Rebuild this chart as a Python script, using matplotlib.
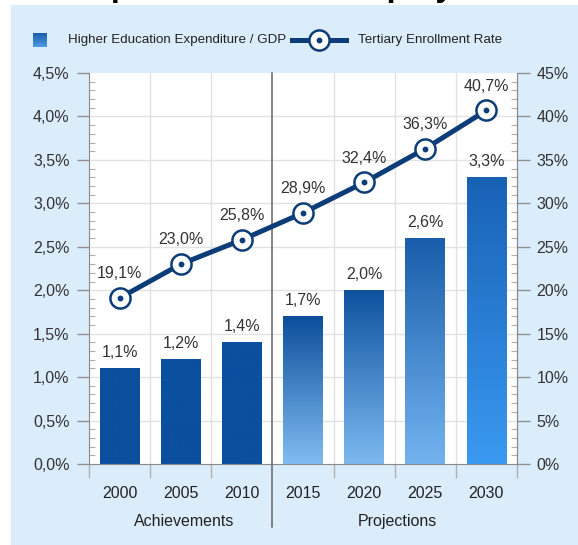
import matplotlib
matplotlib.use("Agg")
import matplotlib.pyplot as plt
import numpy as np
from matplotlib.patches import Rectangle
from matplotlib.lines import Line2D
from matplotlib.colors import to_rgb
from matplotlib.ticker import MultipleLocator, FuncFormatter, FixedLocator

# ---- data ----
years = ["2000", "2005", "2010", "2015", "2020", "2025", "2030"]
expenditure_gdp = [1.1, 1.2, 1.4, 1.7, 2.0, 2.6, 3.3]          # % of GDP
enrollment_rate = [19.1, 23.0, 25.8, 28.9, 32.4, 36.3, 40.7]   # %
groups = ["Achievements", "Projections"]
group_spans = [(0, 2), (3, 6)]

# ---- styling ----
plt.rcParams["font.family"] = ["Liberation Sans", "DejaVu Sans"]

W, H = 578, 545
fig = plt.figure(figsize=(W / 100, H / 100), dpi=100)
fig.patch.set_facecolor("white")

# light blue panel behind the chart
fig.patches.append(Rectangle((11 / W, 0), 1 - 11 / W, (H - 5) / H,
                             transform=fig.transFigure, facecolor="#dbecfb",
                             edgecolor="none", zorder=-10))

# heading, mostly above the visible area
fig.text(71 / W, 1.0 + 4 / H, "Expenditure and Employment", fontsize=23.5,
         fontweight="bold", ha="left", va="baseline", color="black")

ax = fig.add_axes([89 / W, (H - 464) / H, (517 - 89) / W, (464 - 73) / H])
ax.set_facecolor("white")
ax2 = ax.twinx()

n = len(years)
x = np.arange(n)
bar_w = 0.65

# bar gradients: (top colour, bottom colour)
bar_shades = [("#0b4f9f", "#0b4f9f"), ("#0b4f9f", "#0b4f9f"), ("#0b4f9f", "#0b4f9f"),
              ("#0d4f9b", "#80bcf1"), ("#0f539f", "#7cb9f0"),
              ("#1a5eab", "#72b3ef"), ("#1862b5", "#3a99f1")]
for xi, h, (ct, cb) in zip(x, expenditure_gdp, bar_shades):
    t = np.linspace(0, 1, 64)[:, None]
    grad = (1 - t) * np.array(to_rgb(ct)) + t * np.array(to_rgb(cb))
    ax.imshow(grad[:, None, :], extent=[xi - bar_w / 2, xi + bar_w / 2, 0, h],
              aspect="auto", origin="upper", interpolation="bilinear", zorder=2)
    ax.annotate(f"{h:.1f}%".replace(".", ","), (xi, h), xytext=(0, 6),
                textcoords="offset points", ha="center", va="bottom",
                fontsize=11.5, color="#333333", zorder=5)
ax.set_xlim(-0.5, n - 0.5)
ax.set_ylim(0, 4.5)
ax2.set_ylim(0, 45)

# grid
ax.set_axisbelow(True)
for yv in np.arange(0.5, 4.5, 0.5):
    ax.axhline(yv, color="#e2e2e2", lw=1, zorder=0)
for b in np.arange(0.5, n - 0.5, 1):
    if b != 2.5:
        ax.axvline(b, color="#e2e2e2", lw=1, zorder=0)

# separator between achievements and projections
ax.add_line(Line2D([2.5, 2.5], [-0.73, 4.5], color="#707070", lw=1.2,
                   clip_on=False, zorder=6))

# left axis
fmt_left = FuncFormatter(lambda v, p: f"{v:.1f}%".replace(".", ","))
ax.yaxis.set_major_locator(MultipleLocator(0.5))
ax.yaxis.set_minor_locator(MultipleLocator(0.1))
ax.yaxis.set_major_formatter(fmt_left)
ax.tick_params(axis="y", which="major", direction="out", length=9, width=1,
               color="#909090", labelsize=11.5, labelcolor="#333333", pad=5)
ax.tick_params(axis="y", which="minor", direction="in", length=4, width=0.8,
               color="#b0b0b0")

# x axis: labels at centres, ticks at category boundaries
ax.set_xticks(x)
ax.set_xticklabels(years)
ax.xaxis.set_minor_locator(FixedLocator([b for b in np.arange(-0.5, n, 1) if b != 2.5]))
ax.tick_params(axis="x", which="major", length=0, labelsize=11.5,
               labelcolor="#222222", pad=16)
ax.tick_params(axis="x", which="minor", direction="out", length=10, width=1,
               color="#b0b0b0")

# group captions
for name, (a, b) in zip(groups, group_spans):
    cx = (a + b) / 2 + 0.05
    ax.text(cx, -0.66, name, ha="center", va="center", fontsize=11.5,
            color="#222222", transform=ax.transData)

for sp in ["left", "right", "bottom"]:
    ax.spines[sp].set_color("#8a8a8a")
ax.spines["top"].set_visible(False)
ax2.spines["top"].set_visible(False)
ax2.spines["left"].set_visible(False)
ax2.spines["bottom"].set_visible(False)
ax2.spines["right"].set_color("#8a8a8a")

# right axis
ax2.yaxis.set_major_locator(MultipleLocator(5))
ax2.yaxis.set_minor_locator(MultipleLocator(1))
ax2.yaxis.set_major_formatter(FuncFormatter(lambda v, p: f"{v:.0f}%"))
ax2.tick_params(axis="y", which="major", direction="out", length=9, width=1,
                color="#909090", labelsize=11.5, labelcolor="#333333", pad=5)
ax2.tick_params(axis="y", which="minor", direction="in", length=4, width=0.8,
                color="#b0b0b0")

# enrollment line
line_col = "#0d3d78"
ax2.plot(x, enrollment_rate, color=line_col, lw=3.6, marker="o", ms=14.5,
         mfc="white", mec=line_col, mew=1.8, zorder=4, solid_capstyle="butt")
ax2.plot(x, enrollment_rate, ls="none", marker="o", ms=3.2, color=line_col, zorder=5)
for xi, v in zip(x, enrollment_rate):
    ax2.annotate(f"{v:.1f}%".replace(".", ","), (xi, v), xytext=(0, 12),
                 textcoords="offset points", ha="center", va="bottom",
                 fontsize=11.5, color="#333333", zorder=6)

# legend drawn in figure coordinates
def fy(py):
    return 1 - py / H

sq = np.linspace(0, 1, 32)[:, None]
sq_grad = (1 - sq) * np.array(to_rgb("#1a5eab")) + sq * np.array(to_rgb("#4d98e6"))
lax = fig.add_axes([33 / W, fy(47), 14 / W, 14 / H])
lax.imshow(sq_grad[:, None, :], aspect="auto", interpolation="bilinear")
lax.axis("off")
fig.text(68 / W, fy(40), "Higher Education Expenditure / GDP",
         fontsize=9.6, color="#222222", ha="left", va="center")
fig.add_artist(Line2D([292 / W, 346 / W], [fy(40), fy(40)], transform=fig.transFigure,
                      color=line_col, lw=3.6))
fig.add_artist(Line2D([319 / W], [fy(40)], transform=fig.transFigure, marker="o", ms=14.5,
                      mfc="white", mec=line_col, mew=1.8, ls="none"))
fig.add_artist(Line2D([319 / W], [fy(40)], transform=fig.transFigure, marker="o", ms=3.2,
                      color=line_col, ls="none"))
fig.text(358 / W, fy(40), "Tertiary Enrollment Rate",
         fontsize=9.6, color="#222222", ha="left", va="center")

fig.savefig("out.png", dpi=100, facecolor=fig.get_facecolor())
